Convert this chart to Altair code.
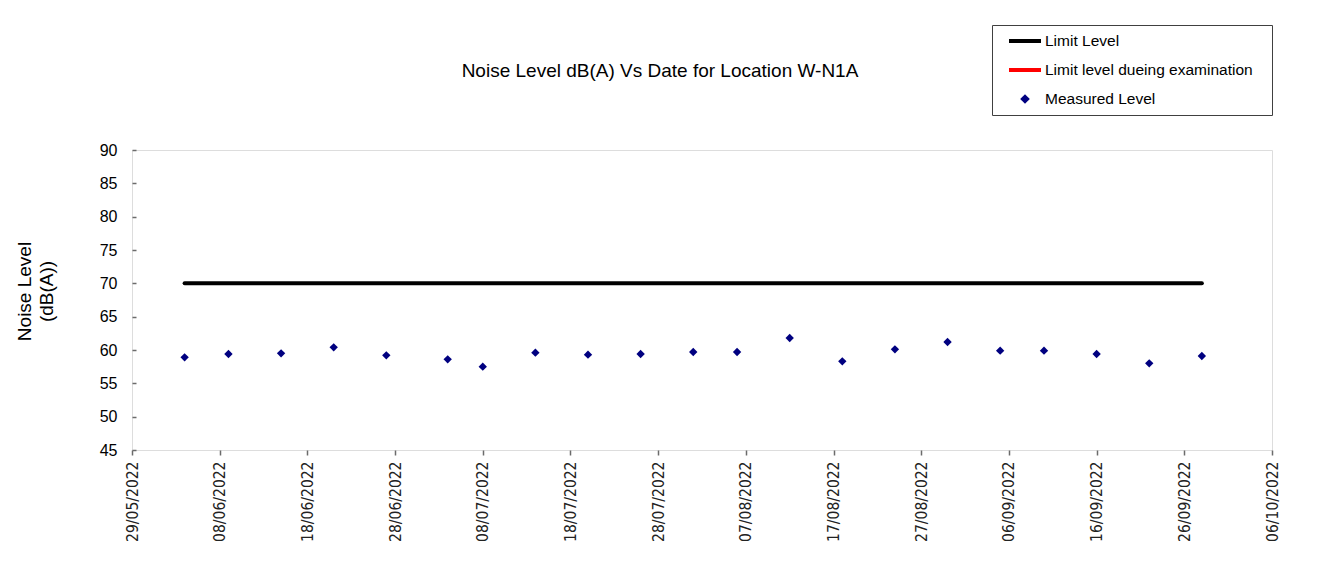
import altair as alt
import pandas as pd

# ---- data ----
DATES = [
    "2022-06-04", "2022-06-09", "2022-06-15", "2022-06-21", "2022-06-27",
    "2022-07-04", "2022-07-08", "2022-07-14", "2022-07-20", "2022-07-26",
    "2022-08-01", "2022-08-06", "2022-08-12", "2022-08-18", "2022-08-24",
    "2022-08-30", "2022-09-05", "2022-09-10", "2022-09-16", "2022-09-22",
    "2022-09-28",
]
MEASURED = [
    58.9, 59.4, 59.5, 60.4, 59.2,
    58.6, 57.5, 59.6, 59.3, 59.4,
    59.7, 59.7, 61.8, 58.3, 60.1,
    61.2, 59.9, 59.9, 59.4, 58.0,
    59.1,
]
LIMIT_LEVEL = 70
SERIES = ["Limit Level", "Limit level dueing examination", "Measured Level"]
SERIES_COLORS = ["#000000", "#ff0000", "#000080"]
X_DOMAIN = ["2022-05-29", "2022-10-06"]
X_TICKS = [
    "2022-05-29", "2022-06-08", "2022-06-18", "2022-06-28", "2022-07-08",
    "2022-07-18", "2022-07-28", "2022-08-07", "2022-08-17", "2022-08-27",
    "2022-09-06", "2022-09-16", "2022-09-26", "2022-10-06",
]
Y_TICKS = [45, 50, 55, 60, 65, 70, 75, 80, 85, 90]
TITLE = "Noise Level dB(A) Vs Date for Location W-N1A"
Y_TITLE = ["Noise Level", "(dB(A))"]


def ms(d):
    return int(pd.Timestamp(d, tz="UTC").value // 10**6)


measured_df = pd.DataFrame({"date": DATES, "level": MEASURED, "series": SERIES[2]})
limit_df = pd.DataFrame(
    {"date": DATES, "level": [LIMIT_LEVEL] * len(DATES), "series": SERIES[0]}
)

FONT = "Liberation Sans"
GRAY = "#6b6b6b"

x_enc = alt.X(
    "date:T",
    scale=alt.Scale(type="utc", domain=[ms(X_DOMAIN[0]), ms(X_DOMAIN[1])], nice=False),
    axis=alt.Axis(
        values=[ms(t) for t in X_TICKS],
        labelExpr="utcFormat(datum.value, '%d/%m/%Y')",
        labelAngle=270,
        labelAlign="right",
        labelBaseline="middle",
        labelPadding=6,
        labelFont="DejaVu Sans Condensed",
        labelFontSize=15.5,
        labelColor="#222222",
        labelFlush=False,
        labelOverlap=False,
        tickSize=5,
        tickColor=GRAY,
        tickWidth=1.5,
        domain=False,
        grid=False,
        title=None,
    ),
)

y_enc = alt.Y(
    "level:Q",
    scale=alt.Scale(domain=[45, 90], nice=False, zero=False),
    axis=alt.Axis(
        values=Y_TICKS,
        title=Y_TITLE,
        offset=-4,
        tickSize=4,
        tickColor=GRAY,
        tickWidth=1.5,
        domain=False,
        grid=False,
        labelPadding=15,
        labelFont=FONT,
        labelFontSize=16,
        labelColor="black",
        titleFont=FONT,
        titleFontSize=19,
        titleFontWeight="normal",
        titleColor="black",
        titleAngle=270,
        titleX=-112,
        titleY=141,
        titleAlign="center",
        titleBaseline="middle",
        titleLineHeight=22,
    ),
)

NAVY = SERIES_COLORS[2]
color_enc = alt.Color(
    "series:N",
    scale=alt.Scale(domain=SERIES, range=SERIES_COLORS),
    legend=alt.Legend(
        title=".",
        titleColor="white",
        titleFont=FONT,
        titleFontSize=15,
        titleOrient="right",
        titlePadding=8,
        orient="none",
        legendX=860,
        legendY=-125,
        direction="vertical",
        strokeColor="#404040",
        fillColor="white",
        padding=6,
        cornerRadius=0,
        symbolType={
            "expr": "datum.value == 'Measured Level' ? 'M-0.3,0L0,-0.3L0.3,0L0,0.3Z' : 'M-1,0L1,0'"
        },
        symbolSize=1024,
        symbolStrokeWidth={"expr": "(datum.value == 'Measured Level' ? 0 : 4)"},
        symbolFillColor=NAVY,
        symbolStrokeColor={
            "expr": "(datum.value == 'Limit Level' ? 'black' : datum.value == 'Measured Level' ? '%s' : 'red')" % NAVY
        },
        clipHeight=20,
        rowPadding=9,
        symbolOffset=9,
        labelOffset=2,
        labelFont=FONT,
        labelFontSize=15.5,
        labelColor="black",
        labelLimit=400,
    ),
)

points = alt.Chart(measured_df).mark_point(
    shape="diamond", filled=True, size=70, opacity=1
).encode(x=x_enc, y=y_enc, color=color_enc)

limit_line = alt.Chart(limit_df).mark_line(strokeWidth=4, strokeCap="round").encode(
    x=x_enc, y=y_enc, color=color_enc
)

chart = (
    alt.layer(points, limit_line)
    .properties(
        width=1140,
        height=300,
        padding={"left": 124, "top": 142, "right": 40, "bottom": 113},
        autosize=alt.AutoSizeParams(type="none"),
        title=alt.Title(
            text=TITLE,
            font=FONT,
            fontSize=19,
            fontWeight="normal",
            color="black",
            anchor="middle",
            frame="group",
            dx=-42,
            dy=71,
            offset=0,
            baseline="alphabetic",
        ),
    )
    .configure_view(stroke=GRAY, strokeWidth=1.5)
    .configure(background="white")
)

chart.save("out.html", embed_options={"renderer": "svg", "actions": False})
